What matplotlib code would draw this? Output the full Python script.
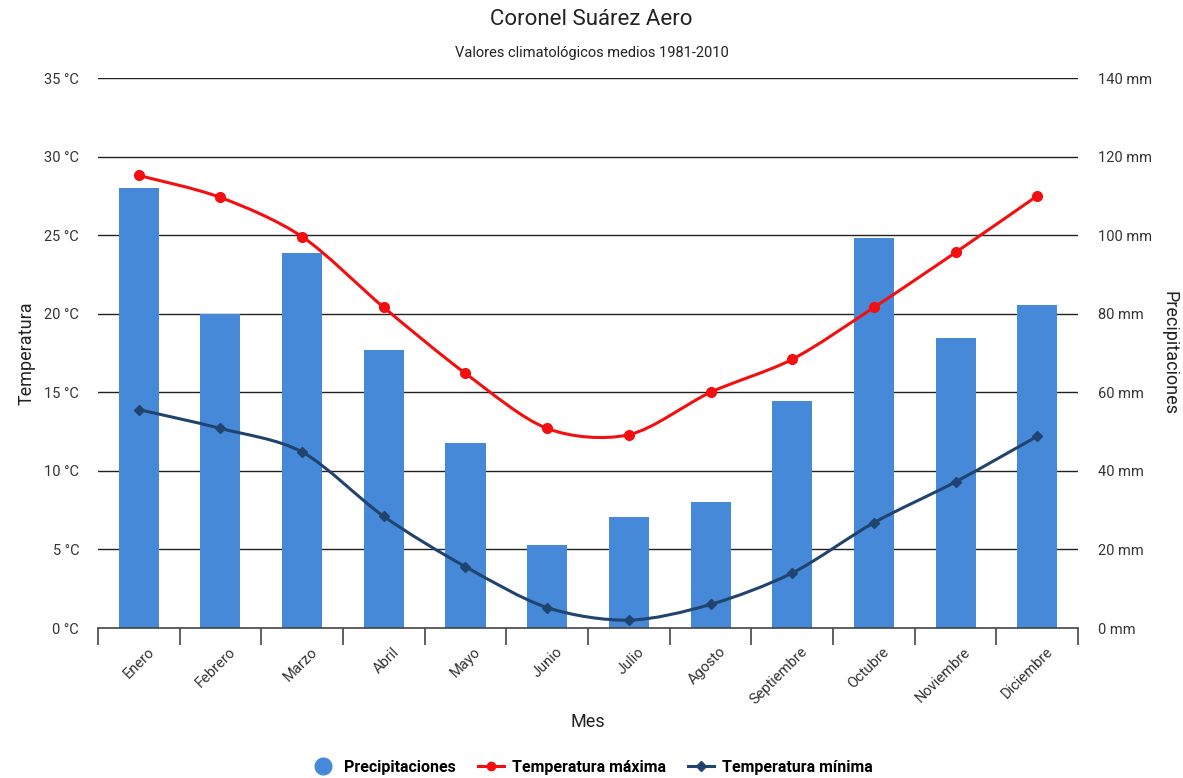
import matplotlib
matplotlib.use('Agg')
from matplotlib import pyplot as plt
from matplotlib.path import Path
from matplotlib.patches import PathPatch
from matplotlib.lines import Line2D
import numpy as np

plt.rcParams['font.family'] = ['Roboto', 'DejaVu Sans']

meses = ['Enero', 'Febrero', 'Marzo', 'Abril', 'Mayo', 'Junio', 'Julio',
         'Agosto', 'Septiembre', 'Octubre', 'Noviembre', 'Diciembre']
precipitaciones = [112, 80, 95.5, 70.8, 47.2, 21.1, 28.2, 32.2, 57.8, 99.3, 73.8, 82.2]
temp_max = [28.8, 27.4, 24.9, 20.4, 16.2, 12.7, 12.3, 15.0, 17.1, 20.4, 23.9, 27.5]
temp_min = [13.9, 12.7, 11.2, 7.1, 3.9, 1.3, 0.5, 1.5, 3.5, 6.7, 9.3, 12.2]

col_bar = '#4589d8'
col_max = '#f30f0f'
col_min = '#21436f'


def smooth_path(xs, ys, k=0.15):
    # cubic bezier through the points (catmull-rom style control points)
    xs = np.asarray(xs, float)
    ys = np.asarray(ys, float)
    n = len(xs)
    verts = [(xs[0], ys[0])]
    codes = [Path.MOVETO]
    for i in range(n - 1):
        i0 = max(i - 1, 0)
        i3 = min(i + 2, n - 1)
        c1 = (xs[i] + (xs[i + 1] - xs[i0]) * k, ys[i] + (ys[i + 1] - ys[i0]) * k)
        c2 = (xs[i + 1] - (xs[i3] - xs[i]) * k, ys[i + 1] - (ys[i3] - ys[i]) * k)
        verts += [c1, c2, (xs[i + 1], ys[i + 1])]
        codes += [Path.CURVE4] * 3
    return Path(verts, codes)


fig = plt.figure(figsize=(11.83, 7.78), dpi=100)
ax = fig.add_axes([0.0828, 0.1928, 0.8285, 0.7069])
ax2 = ax.twinx()

x = np.arange(len(meses))

# precipitation bars on the right axis, drawn behind
ax2.bar(x, precipitaciones, width=0.49, color=col_bar, zorder=2)
ax2.set_ylim(0, 140)
ax2.set_yticks(np.arange(0, 141, 20))
ax2.set_yticklabels(['%d mm' % v for v in range(0, 141, 20)])

ax.set_ylim(0, 35)
ax.set_yticks(np.arange(0, 36, 5))
ax.set_yticklabels(['%d °C' % v for v in range(0, 36, 5)])
ax.set_xlim(-0.5, 11.5)

# temperature lines above the bars
ax.set_zorder(ax2.get_zorder() + 1)
ax.patch.set_visible(False)

# gridlines behind the bars
for t in np.arange(20, 141, 20):
    ax2.axhline(t, color='#222222', lw=1.0, zorder=1)

ax.add_patch(PathPatch(smooth_path(x, temp_max), fill=False, edgecolor=col_max, lw=2.2, zorder=3))
ax.plot(x, temp_max, 'o', color=col_max, ms=7, zorder=4)
ax.add_patch(PathPatch(smooth_path(x, temp_min), fill=False, edgecolor=col_min, lw=2.2, zorder=3))
ax.plot(x, temp_min, 'D', color=col_min, ms=5.5, zorder=4)

for a in (ax, ax2):
    for s in a.spines.values():
        s.set_visible(False)
    a.tick_params(axis='y', length=0, labelsize=10.5, colors='#333333')
ax.tick_params(axis='y', pad=13.5)
ax2.tick_params(axis='y', pad=14.5)

ax.spines['bottom'].set_visible(True)
ax.spines['bottom'].set_color('#444444')
ax.spines['bottom'].set_linewidth(1.2)

ax.set_xticks(np.arange(-0.5, 12, 1))
ax.set_xticklabels([])
ax.tick_params(axis='x', which='major', length=12, color='#444444', width=1.2, direction='out')
ax.set_xticks(x + 0.1, minor=True)
ax.set_xticklabels(meses, minor=True, rotation=45, ha='right', va='top',
                   rotation_mode='anchor', fontsize=10.5, color='#333333')
ax.tick_params(axis='x', which='minor', length=0, pad=12)

ax.set_xlabel('Mes', fontsize=13, color='#222222', labelpad=4)
ax.set_ylabel('Temperatura', fontsize=13, color='#222222', labelpad=6)
ax2.set_ylabel('Precipitaciones', fontsize=13, color='#222222', rotation=-90, labelpad=6,
               va='bottom')

fig.text(0.5, 0.975, 'Coronel Suárez Aero', ha='center', va='center', fontsize=16, color='#222222')
fig.text(0.5, 0.932, 'Valores climatológicos medios 1981-2010', ha='center', va='center',
         fontsize=10.5, color='#222222')

handles = [
    Line2D([], [], marker='o', color=col_bar, linestyle='none', ms=12),
    Line2D([], [], marker='o', color=col_max, lw=2.2, ms=6),
    Line2D([], [], marker='D', color=col_min, lw=2.2, ms=5),
]
leg = fig.legend(handles, ['Precipitaciones', 'Temperatura máxima', 'Temperatura mínima'],
                 loc='center', bbox_to_anchor=(0.5, 0.014), ncol=3, frameon=False,
                 prop={'weight': 'bold', 'size': 11.5}, handlelength=1.6, columnspacing=1.4,
                 handletextpad=0.5)

fig.savefig('out.png', dpi=100)
